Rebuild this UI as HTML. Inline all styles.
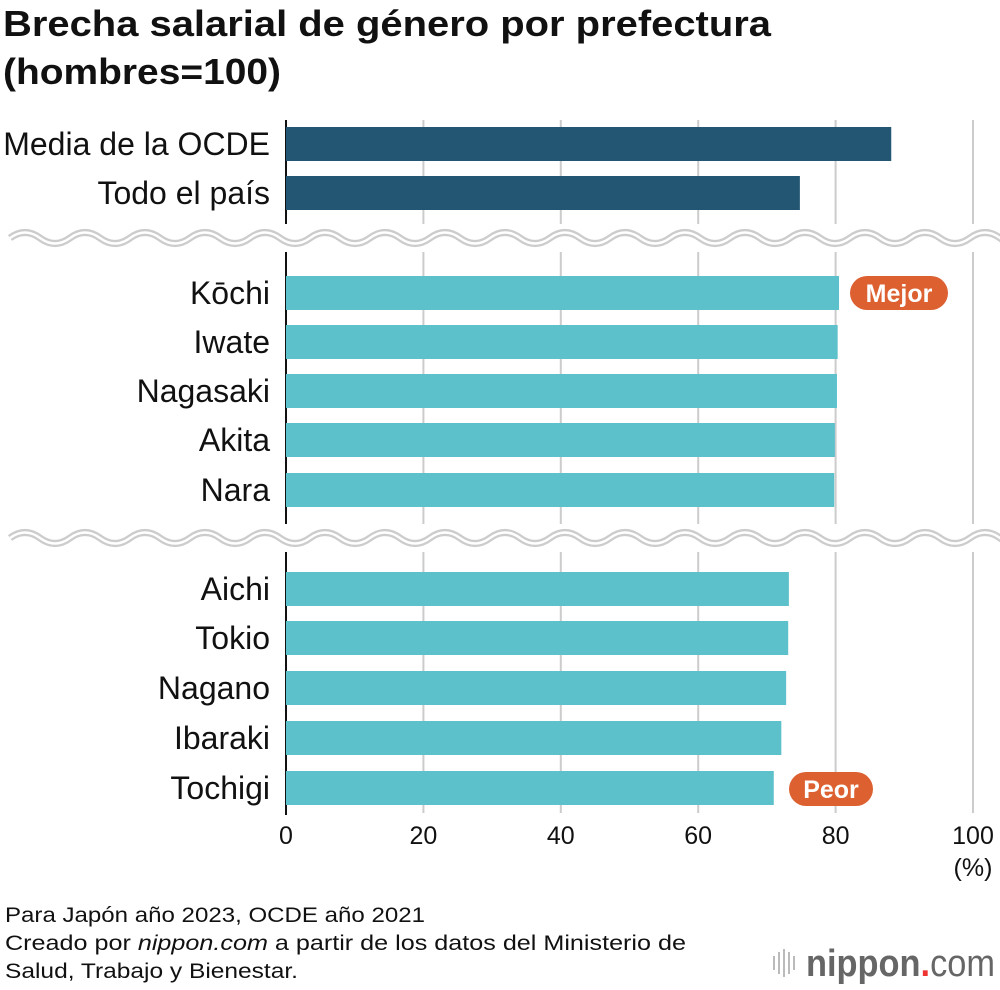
<!DOCTYPE html>
<html><head><meta charset="utf-8"><style>
body{margin:0;background:#fff;font-family:"Liberation Sans",Arial,sans-serif;}
#wrap{position:relative;width:1000px;height:990px;overflow:hidden;}
</style></head><body>
<div id="wrap">
<svg id="chart" width="1000" height="990" style="position:absolute;left:0;top:0">
<text x="3" y="36" font-size="36" font-weight="bold" fill="#111" textLength="768" lengthAdjust="spacingAndGlyphs">Brecha salarial de género por prefectura</text>
<text x="3" y="84" font-size="36" font-weight="bold" fill="#111" textLength="278" lengthAdjust="spacingAndGlyphs">(hombres=100)</text>
<g id="grid"></g><g id="bars"></g><g id="waves"></g><g id="labels"></g>
<text x="5" y="922" font-size="21" fill="#111" textLength="420" lengthAdjust="spacingAndGlyphs">Para Japón año 2023, OCDE año 2021</text>
<text x="5" y="950" font-size="21" fill="#111" textLength="681" lengthAdjust="spacingAndGlyphs">Creado por <tspan font-style="italic">nippon.com</tspan> a partir de los datos del Ministerio de</text>
<text x="5" y="978" font-size="21" fill="#111" textLength="293" lengthAdjust="spacingAndGlyphs">Salud, Trabajo y Bienestar.</text>
<g>
<rect x="773" y="956" width="2" height="14" fill="#bbb"/><rect x="778" y="952" width="2" height="22" fill="#bbb"/><rect x="783" y="949" width="2" height="28" fill="#bbb"/><rect x="788" y="952" width="2" height="22" fill="#bbb"/><rect x="793" y="956" width="2" height="14" fill="#bbb"/>
<text x="806" y="976" font-size="38" font-weight="bold" fill="#666" textLength="189" lengthAdjust="spacingAndGlyphs">nippon<tspan fill="#e33">.</tspan><tspan font-weight="normal">com</tspan></text>
</g>
</svg>
</div>
<script>
const categories=["Media de la OCDE","Todo el país","Kōchi","Iwate","Nagasaki","Akita","Nara","Aichi","Tokio","Nagano","Ibaraki","Tochigi"];
const values=[88.1,74.8,80.5,80.3,80.2,79.9,79.8,73.2,73.1,72.8,72.1,71.0];
const tickValues=[0,20,40,60,80,100];
const rowY=[144,193,293,342,391,440,490,589,638,688,738,788];
const NS="http://www.w3.org/2000/svg";
const x0=286,x1=973;
function xs(v){return x0+(x1-x0)*v/100;}
function mk(tag,attrs,parent){const e=document.createElementNS(NS,tag);for(const k in attrs)e.setAttribute(k,attrs[k]);parent.appendChild(e);return e;}
const grid=document.getElementById('grid'),bars=document.getElementById('bars'),waves=document.getElementById('waves'),labels=document.getElementById('labels');
tickValues.forEach(t=>{
  if(t>0){const l=mk('line',{x1:xs(t),x2:xs(t),y1:120,y2:813,stroke:'#ccc','stroke-width':2},grid);
  
  }
  const tx=mk('text',{x:xs(t),y:844,'font-size':25,'text-anchor':'middle',fill:'#111'},labels);
  tx.textContent=t;
  
  
});
const pct=mk('text',{x:xs(100),y:876,'font-size':25,'text-anchor':'middle',fill:'#111'},labels);
pct.textContent='(%)';


categories.forEach((c,i)=>{
  const y=rowY[i];
  const r=mk('rect',{x:x0,y:y-17,width:xs(values[i])-x0,height:34,fill:i<2?'#225672':'#5cc1cb'},bars);
  
  
  const t=mk('text',{x:270,y:y+11,'font-size':32,'text-anchor':'end',fill:'#111'},labels);
  t.textContent=c;
  
  
});
mk('line',{x1:x0,x2:x0,y1:120,y2:815,stroke:'#111','stroke-width':2},grid);
[238,538].forEach((wy,k)=>{
  let d='M10 '+wy;
  for(let x=10;x<990;x+=60){d+=' Q'+(x+15)+' '+(wy-11)+' '+(x+30)+' '+wy+' Q'+(x+45)+' '+(wy+11)+' '+(x+60)+' '+wy;}
  mk('rect',{x:0,y:wy-14,width:1000,height:28,fill:'#fff'},waves);
  const a=mk('path',{d:d,fill:'none',stroke:'#ccc','stroke-width':7},waves);
  
  
  mk('path',{d:d,fill:'none',stroke:'#fff','stroke-width':2.5},waves);
});
function badge(txt,cx,cy,w,name){
  mk('rect',{x:cx-w/2,y:cy-17,width:w,height:34,rx:17,fill:'#dc6030'},labels);
  const t=mk('text',{x:cx,y:cy+9,'font-size':25,'font-weight':'bold','text-anchor':'middle',fill:'#fff'},labels);
  t.textContent=txt;
  
  
}
badge('Mejor',899,293,98,'best-badge');
badge('Peor',831,789,84,'worst-badge');
</script>
</body></html>
